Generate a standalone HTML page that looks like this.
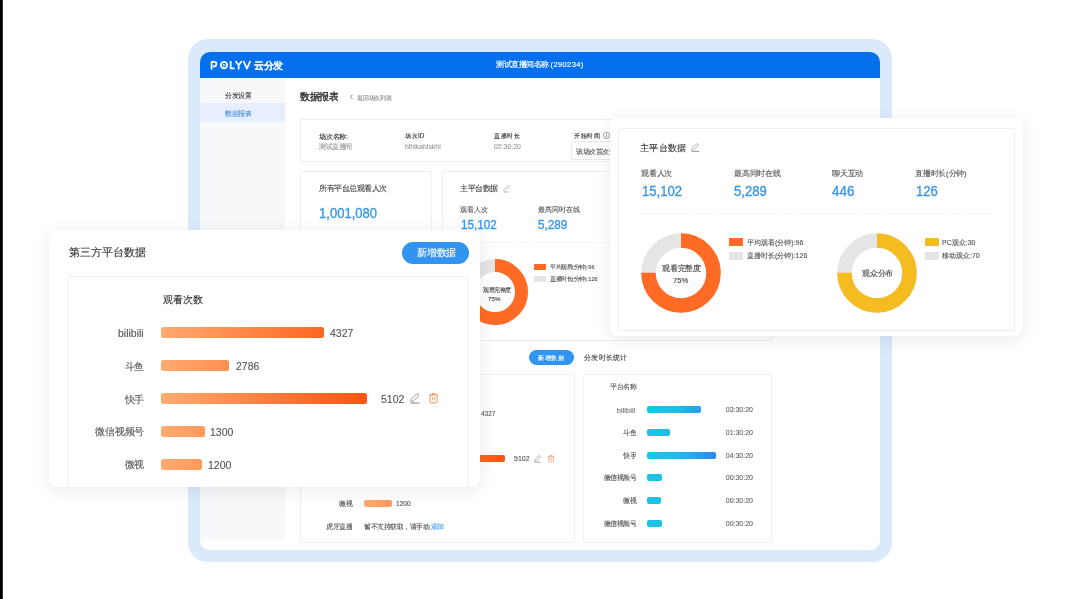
<!DOCTYPE html>
<html><head><meta charset="utf-8">
<style>
*{box-sizing:border-box;margin:0;padding:0}
html,body{width:1080px;height:599px;overflow:hidden;background:#fff;font-family:"Liberation Sans",sans-serif;color:#333}
.a{position:absolute}
.t{position:absolute;white-space:nowrap;line-height:1}
.num{position:absolute;white-space:nowrap;line-height:1;color:#3596ea;transform-origin:0 0}
.box{position:absolute;border:1px solid #efeff0;border-radius:2px;background:#fff}
.bar{position:absolute;border-radius:2px}
.ob{background:linear-gradient(90deg,#ffab70,#ff5410) 0 0/206.5px 100% no-repeat}
.cb{background:linear-gradient(90deg,#1cc5e3 0%,#1fbce7 45%,#2e86f2 100%) 0 0/69px 100% no-repeat}
</style></head><body><div id="root" style="position:absolute;left:0;top:0;width:1080px;height:599px;will-change:transform">
<div class="a" style="left:0;top:0;width:2px;height:599px;background:#000"></div>
<div class="a" style="left:2px;top:0;width:1px;height:599px;background:#333"></div>

<!-- frame -->
<div class="a" style="left:188px;top:39px;width:704px;height:522.5px;border-radius:20px;background:#dbe9fc"></div>
<div class="a" id="app" style="left:200px;top:52px;width:680px;height:498px;border-radius:10px;background:#fff;overflow:hidden">
  <div class="a" style="left:0;top:0;width:680px;height:26px;background:#0570ee"></div>
  <div class="a" style="left:0;top:26px;width:85px;height:462px;background:#f7f8fa"></div>
  <div class="a" style="left:0;top:51px;width:85px;height:19px;background:#e6effb"></div>
</div>
<!-- header text -->
<svg class="a" style="left:208px;top:57px" width="46" height="16" viewBox="208 57 46 16" fill="none" stroke="#fff" stroke-width="1.75" stroke-linejoin="round">
<path d="M211.6 69.4 V61.9 H214.2 A2.2 2.2 0 0 1 214.2 66.3 H212.8"/>
<ellipse cx="224" cy="65.15" rx="3.15" ry="3.3"/>
<path d="M223.3 63.95 L225.3 65.15 L223.3 66.35 Z" fill="#fff" stroke-width="0.5"/>
<path d="M230.65 61 V68.45 H234.7"/>
<path d="M235.5 61 L238.65 65.3 L241.8 61 M238.65 65.3 V69.4"/>
<path d="M243.5 61 L246.9 68.7 L250.3 61"/>
</svg>
<div class="t" style="left:253.6px;top:60.6px;font-size:38.00px;color:#fff;font-weight:bold;-webkit-text-stroke:0.48px currentColor;transform:scale(0.25000,0.25000);transform-origin:left top">云分发</div>
<div class="t" style="left:496px;top:60.50px;font-size:30.00px;color:#fff;font-weight:normal;-webkit-text-stroke:0.60px #fff;transform:scale(0.25000,0.25000);transform-origin:left top">测试直播间名称 <span style="letter-spacing:1.5px">(290234)</span></div>
<!-- sidebar -->
<div class="t" style="left:225px;top:91.60px;font-size:26.00px;color:#444;-webkit-text-stroke:0.48px currentColor;transform:scale(0.25000,0.25000);transform-origin:left top">分发设置</div>
<div class="t" style="left:225px;top:110.4px;font-size:26.00px;color:#4a90e2;-webkit-text-stroke:0.48px currentColor;transform:scale(0.25000,0.25000);transform-origin:left top">数据报表</div>

<!-- content -->
<div class="t" style="left:300px;top:92.0px;font-size:38.00px;color:#333;-webkit-text-stroke:1.60px #333;transform:scale(0.25000,0.25000);transform-origin:left top">数据报表</div>
<svg class="a" style="left:349px;top:93px" width="5" height="8" viewBox="0 0 5 8"><path d="M3.4 1.6 L1.6 3.9 L3.4 6.2" fill="none" stroke="#777" stroke-width="0.85"/></svg>
<div class="t" style="left:356.8px;top:95.0px;font-size:22.80px;color:#8a8a8a;-webkit-text-stroke:0.48px currentColor;transform:scale(0.25000,0.25000);transform-origin:left top">返回场次列表</div>

<div class="box" style="left:300px;top:119px;width:472px;height:43px"></div>
<div class="t" style="left:319px;top:132.80px;font-size:26.80px;color:#333;-webkit-text-stroke:0.48px #333;transform:scale(0.25000,0.25000);transform-origin:left top">场次名称:</div>
<div class="t" style="left:319px;top:142.80px;font-size:26.40px;color:#999;-webkit-text-stroke:0.48px currentColor;transform:scale(0.25000,0.25000);transform-origin:left top">测试直播间</div>
<div class="t" style="left:405px;top:132.80px;font-size:25.60px;color:#333;-webkit-text-stroke:0.48px #333;transform:scale(0.25000,0.25000);transform-origin:left top">场次ID</div>
<div class="t" style="left:405px;top:142.60px;font-size:27.60px;color:#999;-webkit-text-stroke:0.48px currentColor;transform:scale(0.25000,0.25000);transform-origin:left top">hlhlkahlskhl</div>
<div class="t" style="left:494px;top:132.80px;font-size:25.60px;color:#333;-webkit-text-stroke:0.48px #333;transform:scale(0.25000,0.25000);transform-origin:left top">直播时长</div>
<div class="t" style="left:494px;top:142.90px;font-size:27.60px;color:#999;-webkit-text-stroke:0.48px currentColor;transform:scale(0.25000,0.25000);transform-origin:left top">02:30:20</div>
<div class="t" style="left:574px;top:132.50px;font-size:25.60px;color:#333;-webkit-text-stroke:0.48px #333;transform:scale(0.25000,0.25000);transform-origin:left top">开始时间</div>
<svg class="a" style="left:601.5px;top:131.3px" width="9" height="9" viewBox="0 0 9 9"><circle cx="4.5" cy="4.5" r="3.1" fill="none" stroke="#777" stroke-width="0.7"/><path d="M4.5 3.9 V6.3" stroke="#777" stroke-width="0.8"/><circle cx="4.5" cy="2.9" r="0.45" fill="#777"/></svg>
<div class="a" style="left:571px;top:141px;width:61px;height:18.6px;border:1px solid #e8e8e8;background:#fff;border-radius:2px"></div>
<div class="t" style="left:576px;top:147.50px;font-size:26.40px;color:#555;-webkit-text-stroke:0.48px currentColor;transform:scale(0.25000,0.25000);transform-origin:left top">该场次首次开播</div>

<!-- card A -->
<div class="box" style="left:300px;top:171px;width:132px;height:170px"></div>
<div class="t" style="left:319px;top:185.20px;font-size:30.00px;color:#444;-webkit-text-stroke:0.48px currentColor;transform:scale(0.25000,0.25000);transform-origin:left top">所有平台总观看人次</div>
<div class="num" style="left:319px;top:205.50px;font-size:58.00px;transform:scale(0.22500,0.25000);transform-origin:left top;-webkit-text-stroke:1.4px currentColor">1,001,080</div>

<!-- card B -->
<div class="box" style="left:442px;top:171px;width:330px;height:170px"></div>
<div class="t" style="left:460px;top:185.30px;font-size:30.00px;color:#444;-webkit-text-stroke:0.48px currentColor;transform:scale(0.25000,0.25000);transform-origin:left top">主平台数据</div>
<div class="t" style="left:460px;top:206.00px;font-size:27.60px;color:#555;-webkit-text-stroke:0.48px currentColor;transform:scale(0.25000,0.25000);transform-origin:left top">观看人次</div>
<div class="t" style="left:538px;top:206.00px;font-size:27.60px;color:#555;-webkit-text-stroke:0.48px currentColor;transform:scale(0.25000,0.25000);transform-origin:left top">最高同时在线</div>
<div class="num" style="left:460.80px;top:217.80px;font-size:52.00px;transform:scale(0.22500,0.25000);transform-origin:left top;-webkit-text-stroke:1.4px currentColor">15,102</div>
<div class="num" style="left:538px;top:217.80px;font-size:52.00px;transform:scale(0.22500,0.25000);transform-origin:left top;-webkit-text-stroke:1.4px currentColor">5,289</div>
<div class="a" style="left:460px;top:242px;width:295px;height:1px;background:repeating-linear-gradient(90deg,#ebebeb 0 2px,transparent 2px 4.2px)"></div>
<svg class="a" style="left:462px;top:259px" width="66" height="66" viewBox="0 0 66 66">
  <circle cx="33" cy="33" r="26.5" fill="none" stroke="#e5e5e5" stroke-width="13"/>
  <circle cx="33" cy="33" r="26.5" fill="none" stroke="#ff6b24" stroke-width="13" stroke-dasharray="124.9 166.5" transform="rotate(-90 33 33)"/>
</svg>
<div class="t" style="left:483px;top:287px;font-size:22.00px;color:#444;-webkit-text-stroke:0.48px currentColor;transform:scale(0.25000,0.25000);transform-origin:left top">观看完整度</div>
<div class="t" style="left:487.8px;top:295.8px;font-size:24.80px;color:#444;-webkit-text-stroke:0.48px currentColor;transform:scale(0.25000,0.25000);transform-origin:left top">75%</div>
<div class="a" style="left:534px;top:263.5px;width:12px;height:6px;background:#ff6b24"></div>
<div class="a" style="left:534px;top:275.5px;width:12px;height:6px;background:#e5e5e5"></div>
<div class="t" style="left:549.7px;top:264.2px;font-size:22.40px;color:#555;-webkit-text-stroke:0.48px currentColor;transform:scale(0.25000,0.25000);transform-origin:left top">平均观看(分钟):96</div>
<div class="t" style="left:549.7px;top:275.8px;font-size:22.40px;color:#555;-webkit-text-stroke:0.48px currentColor;transform:scale(0.25000,0.25000);transform-origin:left top">直播时长(分钟):126</div>

<!-- section 2 -->
<div class="a" style="left:529px;top:350px;width:45px;height:15px;border-radius:8px;background:#3094f0"></div>
<div class="t" style="left:538.3px;top:354.8px;font-size:25.60px;color:#fff;-webkit-text-stroke:0.48px currentColor;transform:scale(0.25000,0.25000);transform-origin:left top">新增数据</div>
<div class="t" style="left:583.6px;top:354.30px;font-size:29.20px;color:#444;-webkit-text-stroke:0.48px currentColor;transform:scale(0.25000,0.25000);transform-origin:left top">分发时长统计</div>

<!-- card C -->
<div class="box" style="left:300px;top:374px;width:275px;height:169px"></div>
<div class="t" style="left:480.5px;top:409.5px;font-size:26.00px;color:#555;-webkit-text-stroke:0.48px currentColor;transform:scale(0.25000,0.25000);transform-origin:left top">4327</div>
<div class="bar ob" style="left:364px;top:454.5px;width:141px;height:7px;background:linear-gradient(90deg,#ffab70,#ff5410)"></div>
<div class="t" style="left:514.3px;top:454.5px;font-size:28.00px;color:#555;-webkit-text-stroke:0.48px currentColor;transform:scale(0.25000,0.25000);transform-origin:left top">5102</div>
<div class="t" style="right:727.7px;top:500.1px;font-size:26.40px;color:#555;-webkit-text-stroke:0.48px currentColor;transform:scale(0.25000,0.25000);transform-origin:right top">微视</div>
<div class="bar ob" style="left:364px;top:500px;width:28px;height:7px;background:linear-gradient(90deg,#ffab70,#ff5410) 0 0/141px 100% no-repeat"></div>
<div class="t" style="left:396px;top:500.4px;font-size:26.40px;color:#555;-webkit-text-stroke:0.48px currentColor;transform:scale(0.25000,0.25000);transform-origin:left top">1200</div>
<div class="t" style="right:727.7px;top:522.8px;font-size:26.40px;color:#555;-webkit-text-stroke:0.48px currentColor;transform:scale(0.25000,0.25000);transform-origin:right top">虎牙直播</div>
<div class="t" style="left:364px;top:522.8px;font-size:26.40px;color:#555;-webkit-text-stroke:0.48px currentColor;transform:scale(0.25000,0.25000);transform-origin:left top">暂不支持获取，请手动 <span style="color:#4ea3f0">添加</span></div>

<!-- card D -->
<div class="box" style="left:583px;top:374px;width:189px;height:169px"></div>
<div class="t" style="right:444.4px;top:383.10px;font-size:26.40px;color:#555;-webkit-text-stroke:0.48px currentColor;transform:scale(0.25000,0.25000);transform-origin:right top">平台名称</div>
<div class="t" style="right:444.4px;top:405.7px;font-size:30.40px;color:#777;-webkit-text-stroke:0.48px currentColor;transform:scale(0.25000,0.25000);transform-origin:right top">bilibili</div>
<div class="bar cb" style="left:646.7px;top:406.1px;width:54px;height:7px"></div>
<div class="t" style="right:326.7px;top:406.1px;font-size:28.00px;color:#666;-webkit-text-stroke:0.48px currentColor;transform:scale(0.25000,0.25000);transform-origin:right top">03:30:20</div>
<div class="t" style="right:444.4px;top:429.30px;font-size:26.40px;color:#555;-webkit-text-stroke:0.48px currentColor;transform:scale(0.25000,0.25000);transform-origin:right top">斗鱼</div>
<div class="bar cb" style="left:646.7px;top:429.0px;width:23px;height:7px"></div>
<div class="t" style="right:326.7px;top:429.0px;font-size:28.00px;color:#666;-webkit-text-stroke:0.48px currentColor;transform:scale(0.25000,0.25000);transform-origin:right top">01:30:20</div>
<div class="t" style="right:444.4px;top:452.10px;font-size:26.40px;color:#555;-webkit-text-stroke:0.48px currentColor;transform:scale(0.25000,0.25000);transform-origin:right top">快手</div>
<div class="bar cb" style="left:646.7px;top:451.8px;width:69px;height:7px"></div>
<div class="t" style="right:326.7px;top:451.8px;font-size:28.00px;color:#666;-webkit-text-stroke:0.48px currentColor;transform:scale(0.25000,0.25000);transform-origin:right top">04:30:20</div>
<div class="t" style="right:444.4px;top:474.30px;font-size:26.40px;color:#555;-webkit-text-stroke:0.48px currentColor;transform:scale(0.25000,0.25000);transform-origin:right top">微信视频号</div>
<div class="bar cb" style="left:646.7px;top:474.0px;width:15px;height:7px"></div>
<div class="t" style="right:326.7px;top:474.0px;font-size:28.00px;color:#666;-webkit-text-stroke:0.48px currentColor;transform:scale(0.25000,0.25000);transform-origin:right top">00:30:20</div>
<div class="t" style="right:444.4px;top:496.80px;font-size:26.40px;color:#555;-webkit-text-stroke:0.48px currentColor;transform:scale(0.25000,0.25000);transform-origin:right top">微视</div>
<div class="bar cb" style="left:646.7px;top:496.5px;width:14px;height:7px"></div>
<div class="t" style="right:326.7px;top:496.5px;font-size:28.00px;color:#666;-webkit-text-stroke:0.48px currentColor;transform:scale(0.25000,0.25000);transform-origin:right top">00:30:20</div>
<div class="t" style="right:444.4px;top:520.00px;font-size:26.40px;color:#555;-webkit-text-stroke:0.48px currentColor;transform:scale(0.25000,0.25000);transform-origin:right top">微信视频号</div>
<div class="bar cb" style="left:646.7px;top:519.7px;width:15px;height:7px"></div>
<div class="t" style="right:326.7px;top:519.7px;font-size:28.00px;color:#666;-webkit-text-stroke:0.48px currentColor;transform:scale(0.25000,0.25000);transform-origin:right top">00:30:20</div>

<!-- left popup -->
<div class="a" id="lp" style="left:49px;top:230px;width:431px;height:257px;border-radius:9px;background:#fff;box-shadow:0 4px 18px rgba(0,0,0,0.085);overflow:hidden">
  <div class="a" style="left:18.5px;top:46px;width:401.5px;height:240px;border:1px solid #eff0f2"></div>
</div>
<div class="t" style="left:69px;top:247px;font-size:44.00px;color:#333;-webkit-text-stroke:0.48px currentColor;transform:scale(0.25000,0.25000);transform-origin:left top">第三方平台数据</div>
<div class="a" style="left:402px;top:242px;width:67px;height:22px;border-radius:11px;background:#3094f0"></div>
<div class="t" style="left:417px;top:248px;font-size:38.80px;color:#fff;-webkit-text-stroke:0.48px currentColor;transform:scale(0.25000,0.25000);transform-origin:left top">新增数据</div>
<div class="t" style="left:163px;top:295px;font-size:39.60px;color:#333;-webkit-text-stroke:0.48px currentColor;transform:scale(0.25000,0.25000);transform-origin:left top">观看次数</div>
<div class="t" style="right:936.5px;top:328.4px;font-size:42.00px;color:#555;-webkit-text-stroke:0.48px currentColor;transform:scale(0.25000,0.25000);transform-origin:right top">bilibili</div>
<div class="bar ob" style="left:160.8px;top:327.1px;width:163.3px;height:11px;border-radius:2.5px"></div>
<div class="t" style="left:330px;top:327.6px;font-size:42.00px;color:#555;-webkit-text-stroke:0.48px currentColor;transform:scale(0.25000,0.25000);transform-origin:left top">4327</div>
<div class="t" style="right:936.5px;top:361.8px;font-size:38.80px;color:#555;-webkit-text-stroke:0.48px currentColor;transform:scale(0.25000,0.25000);transform-origin:right top">斗鱼</div>
<div class="bar ob" style="left:160.8px;top:360.1px;width:68.5px;height:11px;border-radius:2.5px"></div>
<div class="t" style="left:236.3px;top:360.6px;font-size:42.00px;color:#555;-webkit-text-stroke:0.48px currentColor;transform:scale(0.25000,0.25000);transform-origin:left top">2786</div>
<div class="t" style="right:936.5px;top:394.8px;font-size:38.80px;color:#555;-webkit-text-stroke:0.48px currentColor;transform:scale(0.25000,0.25000);transform-origin:right top">快手</div>
<div class="bar ob" style="left:160.8px;top:393.1px;width:206.5px;height:11px;border-radius:2.5px"></div>
<div class="t" style="left:381px;top:393.6px;font-size:42.00px;color:#555;-webkit-text-stroke:0.48px currentColor;transform:scale(0.25000,0.25000);transform-origin:left top">5102</div>
<div class="t" style="right:936.5px;top:427.20px;font-size:38.80px;color:#555;-webkit-text-stroke:0.48px currentColor;transform:scale(0.25000,0.25000);transform-origin:right top">微信视频号</div>
<div class="bar ob" style="left:160.8px;top:426.1px;width:44.6px;height:11px;border-radius:2.5px"></div>
<div class="t" style="left:210.4px;top:426.6px;font-size:42.00px;color:#555;-webkit-text-stroke:0.48px currentColor;transform:scale(0.25000,0.25000);transform-origin:left top">1300</div>
<div class="t" style="right:936.5px;top:460.10px;font-size:38.80px;color:#555;-webkit-text-stroke:0.48px currentColor;transform:scale(0.25000,0.25000);transform-origin:right top">微视</div>
<div class="bar ob" style="left:160.8px;top:459.0px;width:41.1px;height:11px;border-radius:2.5px"></div>
<div class="t" style="left:207.8px;top:459.5px;font-size:42.00px;color:#555;-webkit-text-stroke:0.48px currentColor;transform:scale(0.25000,0.25000);transform-origin:left top">1200</div>

<svg class="a" style="left:409.5px;top:393px;overflow:visible" width="10.0" height="11.0" viewBox="0 0 10 11" fill="none" stroke="#8a8a8a" stroke-width="0.9">
<path d="M0.9 8.4 L1.1 6.4 L6.3 1.2 A1.25 1.25 0 0 1 8.1 1.2 L8.3 1.4 A1.25 1.25 0 0 1 8.3 3.2 L3.1 8.4 Z"/>
<path d="M0.5 10 H9.5" stroke-width="1.1"/></svg><svg class="a" style="left:429.4px;top:393.1px;overflow:visible" width="9.0" height="10.5" viewBox="0 0 9 10.5" fill="none" stroke="#f48a50" stroke-width="1">
<path d="M0.2 1.9 H8.8"/><path d="M3.3 1.9 V0.6 H5.7 V1.9"/>
<path d="M1 1.9 V8.6 Q1 9.9 2.3 9.9 H6.7 Q8 9.9 8 8.6 V1.9"/>
<path d="M3.6 4.2 V7.4 M5.4 4.2 V7.4" stroke-width="0.8"/></svg><svg class="a" style="left:533.8px;top:455px;overflow:visible" width="7.2" height="7.9" viewBox="0 0 10 11" fill="none" stroke="#8a8a8a" stroke-width="0.9">
<path d="M0.9 8.4 L1.1 6.4 L6.3 1.2 A1.25 1.25 0 0 1 8.1 1.2 L8.3 1.4 A1.25 1.25 0 0 1 8.3 3.2 L3.1 8.4 Z"/>
<path d="M0.5 10 H9.5" stroke-width="1.1"/></svg><svg class="a" style="left:547.7px;top:455px;overflow:visible" width="6.1" height="7.1" viewBox="0 0 9 10.5" fill="none" stroke="#f48a50" stroke-width="1">
<path d="M0.2 1.9 H8.8"/><path d="M3.3 1.9 V0.6 H5.7 V1.9"/>
<path d="M1 1.9 V8.6 Q1 9.9 2.3 9.9 H6.7 Q8 9.9 8 8.6 V1.9"/>
<path d="M3.6 4.2 V7.4 M5.4 4.2 V7.4" stroke-width="0.8"/></svg>
<!-- right popup -->
<div class="a" id="rp" style="left:610px;top:117.5px;width:412.5px;height:218px;border-radius:8px;background:#fff;box-shadow:0 4px 18px rgba(0,0,0,0.085)">
  <div class="a" style="left:8px;top:10px;width:397px;height:203px;border:1px solid #f0f0f0;border-radius:2px"></div>
</div>
<div class="t" style="left:640px;top:143px;font-size:36.80px;color:#333;-webkit-text-stroke:0.48px currentColor;transform:scale(0.25000,0.25000);transform-origin:left top">主平台数据</div>
<div class="t" style="left:641.00px;top:169.5px;font-size:30.80px;color:#555;-webkit-text-stroke:0.48px currentColor;transform:scale(0.25000,0.25000);transform-origin:left top">观看人次</div>
<div class="t" style="left:734px;top:169.5px;font-size:30.80px;color:#555;-webkit-text-stroke:0.48px currentColor;transform:scale(0.25000,0.25000);transform-origin:left top">最高同时在线</div>
<div class="t" style="left:832px;top:169.5px;font-size:30.80px;color:#555;-webkit-text-stroke:0.48px currentColor;transform:scale(0.25000,0.25000);transform-origin:left top">聊天互动</div>
<div class="t" style="left:915px;top:169.5px;font-size:30.80px;color:#555;-webkit-text-stroke:0.48px currentColor;transform:scale(0.25000,0.25000);transform-origin:left top">直播时长(分钟)</div>
<div class="num" style="left:641.50px;top:182.50px;font-size:60.00px;transform:scale(0.21750,0.25000);transform-origin:left top;-webkit-text-stroke:1.4px currentColor">15,102</div>
<div class="num" style="left:734px;top:182.50px;font-size:60.00px;transform:scale(0.21750,0.25000);transform-origin:left top;-webkit-text-stroke:1.4px currentColor">5,289</div>
<div class="num" style="left:832px;top:182.50px;font-size:60.00px;transform:scale(0.22500,0.25000);transform-origin:left top;-webkit-text-stroke:1.4px currentColor">446</div>
<div class="num" style="left:916.00px;top:182.50px;font-size:60.00px;transform:scale(0.21750,0.25000);transform-origin:left top;-webkit-text-stroke:1.4px currentColor">126</div>
<div class="a" style="left:640px;top:213px;width:353px;height:1px;background:repeating-linear-gradient(90deg,#ebebeb 0 2px,transparent 2px 4.2px)"></div>
<svg class="a" style="left:641px;top:233px" width="80" height="80" viewBox="0 0 80 80">
  <circle cx="40" cy="40" r="32.5" fill="none" stroke="#e5e5e5" stroke-width="14.5"/>
  <circle cx="40" cy="40" r="32.5" fill="none" stroke="#ff6b24" stroke-width="14.5" stroke-dasharray="153.2 204.2" transform="rotate(-90 40 40)"/>
</svg>
<div class="t" style="left:662px;top:265px;font-size:30.80px;color:#444;-webkit-text-stroke:0.48px currentColor;transform:scale(0.25000,0.25000);transform-origin:left top">观看完整度</div>
<div class="t" style="left:673px;top:276.5px;font-size:30.80px;color:#444;-webkit-text-stroke:0.48px currentColor;transform:scale(0.25000,0.25000);transform-origin:left top">75%</div>
<div class="a" style="left:729px;top:238px;width:14px;height:8px;background:#ff6b24"></div>
<div class="a" style="left:729px;top:252px;width:14px;height:8px;background:#e5e5e5"></div>
<div class="t" style="left:747px;top:238.5px;font-size:28.00px;color:#555;-webkit-text-stroke:0.48px currentColor;transform:scale(0.25000,0.25000);transform-origin:left top">平均观看(分钟):96</div>
<div class="t" style="left:747px;top:252px;font-size:28.00px;color:#555;-webkit-text-stroke:0.48px currentColor;transform:scale(0.25000,0.25000);transform-origin:left top">直播时长(分钟):126</div>
<svg class="a" style="left:837px;top:233px" width="80" height="80" viewBox="0 0 80 80">
  <circle cx="40" cy="40" r="32.5" fill="none" stroke="#e5e5e5" stroke-width="14.5"/>
  <circle cx="40" cy="40" r="32.5" fill="none" stroke="#f5bc22" stroke-width="14.5" stroke-dasharray="153.2 204.2" transform="rotate(-90 40 40)"/>
</svg>
<div class="t" style="left:862px;top:269.5px;font-size:30.80px;color:#444;-webkit-text-stroke:0.48px currentColor;transform:scale(0.25000,0.25000);transform-origin:left top">观众分布</div>
<div class="a" style="left:925px;top:238px;width:14px;height:8px;background:#f5bc22"></div>
<div class="a" style="left:925px;top:252px;width:14px;height:8px;background:#e5e5e5"></div>
<div class="t" style="left:942px;top:238.5px;font-size:28.00px;color:#555;-webkit-text-stroke:0.48px currentColor;transform:scale(0.25000,0.25000);transform-origin:left top">PC观众:30</div>
<div class="t" style="left:942px;top:252px;font-size:28.00px;color:#555;-webkit-text-stroke:0.48px currentColor;transform:scale(0.25000,0.25000);transform-origin:left top">移动观众:70</div>

<svg class="a" style="left:690.7px;top:142.5px;overflow:visible" width="8.5" height="9.3" viewBox="0 0 10 11" fill="none" stroke="#999" stroke-width="0.9">
<path d="M0.9 8.4 L1.1 6.4 L6.3 1.2 A1.25 1.25 0 0 1 8.1 1.2 L8.3 1.4 A1.25 1.25 0 0 1 8.3 3.2 L3.1 8.4 Z"/>
<path d="M0.5 10 H9.5" stroke-width="1.1"/></svg><svg class="a" style="left:503px;top:184.5px;overflow:visible" width="7.0" height="7.7" viewBox="0 0 10 11" fill="none" stroke="#aaa" stroke-width="0.9">
<path d="M0.9 8.4 L1.1 6.4 L6.3 1.2 A1.25 1.25 0 0 1 8.1 1.2 L8.3 1.4 A1.25 1.25 0 0 1 8.3 3.2 L3.1 8.4 Z"/>
<path d="M0.5 10 H9.5" stroke-width="1.1"/></svg>
</div></body></html>
